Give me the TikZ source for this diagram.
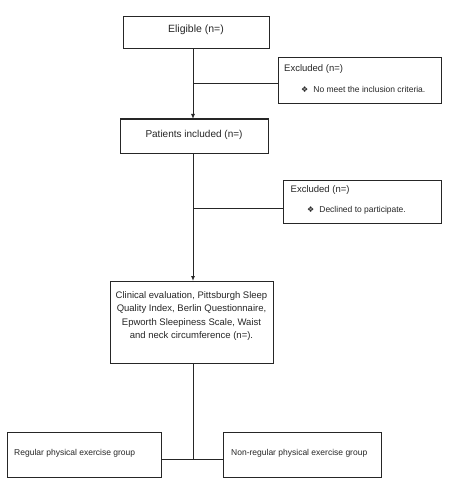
\documentclass[tikz,border=0pt]{standalone}
\usepackage{fontspec}
\setmainfont{Liberation Sans}
\newfontfamily\symf{DejaVu Sans}
\usetikzlibrary{arrows.meta}
\begin{document}
\begin{tikzpicture}[x=1pt,y=-1pt,
  box/.style={draw=black!85,line width=1pt,fill=white},
  conn/.style={draw=black!85,line width=1pt},
  arr/.style={conn,-{Latex[length=5pt,width=4pt]}},
  txt/.style={inner sep=0pt,anchor=west,text=black!85},
  ctxt/.style={inner sep=0pt,text=black!85}]
\useasboundingbox[fill=white] (0,0) rectangle (448,492);
% boxes
\draw[box] (123,17) rectangle (269,49);
\node[ctxt,font=\fontsize{10.5}{12}\selectfont] (elig) at (196,30) {Eligible (n=)};
\coordinate (eligB) at (193,49);
\draw[box] (278,58) rectangle (441,104);
\coordinate (ex1L) at (278,84);
\node[txt,font=\fontsize{9.5}{11}\selectfont] (ex1t) at (284,69.5) {Excluded (n=)};
\node[txt,font=\fontsize{8.5}{10}\selectfont] (ex1b) at (301,89) {{\symf\fontsize{8}{9}\selectfont ❖}\hspace{5pt}No meet the inclusion criteria.};
\draw[box] (120,119) rectangle (268,153);
\node[ctxt,font=\fontsize{10}{12}\selectfont] (pat) at (194,135) {Patients included (n=)};
\coordinate (patT) at (193,119);
\coordinate (patB) at (193,153);
\draw[box] (283,180) rectangle (441,223);
\coordinate (ex2L) at (283,208);
\node[txt,font=\fontsize{9.5}{11}\selectfont] (ex2t) at (290.5,190.5) {Excluded (n=)};
\node[txt,font=\fontsize{8.5}{10}\selectfont] (ex2b) at (307,210) {{\symf\fontsize{8}{9}\selectfont ❖}\hspace{5pt}Declined to participate.};
\draw[box] (110,281) rectangle (273,363);
\node[ctxt,font=\fontsize{9.5}{13.3}\selectfont,align=center] (clin) at (191.5,316) {Clinical evaluation, Pittsburgh Sleep\\Quality Index, Berlin Questionnaire,\\Epworth Sleepiness Scale, Waist\\and neck circumference (n=).};
\coordinate (clinT) at (193,281);
\coordinate (clinB) at (193,363);
\draw[box] (7,432) rectangle (161,477);
\node[txt,font=\fontsize{8.5}{10}\selectfont] (reg) at (14,453) {Regular physical exercise group};
\draw[box] (223,432) rectangle (381,477);
\node[txt,font=\fontsize{8.5}{10}\selectfont] (nreg) at (231,453) {Non-regular physical exercise group};
\coordinate (regR) at (161,459);
\coordinate (nregL) at (223,459);
\coordinate (j1) at (193,84);
\coordinate (j2) at (193,208);
\coordinate (j3) at (193,459);
% connectors
\draw[arr] (eligB) -- (patT);
\draw[conn] (j1) -- (ex1L);
\draw[arr] (patB) -- (clinT);
\draw[conn] (j2) -- (ex2L);
\draw[conn] (clinB) -- (j3);
\draw[conn] (regR) -- (nregL);
\end{tikzpicture}
\end{document}
